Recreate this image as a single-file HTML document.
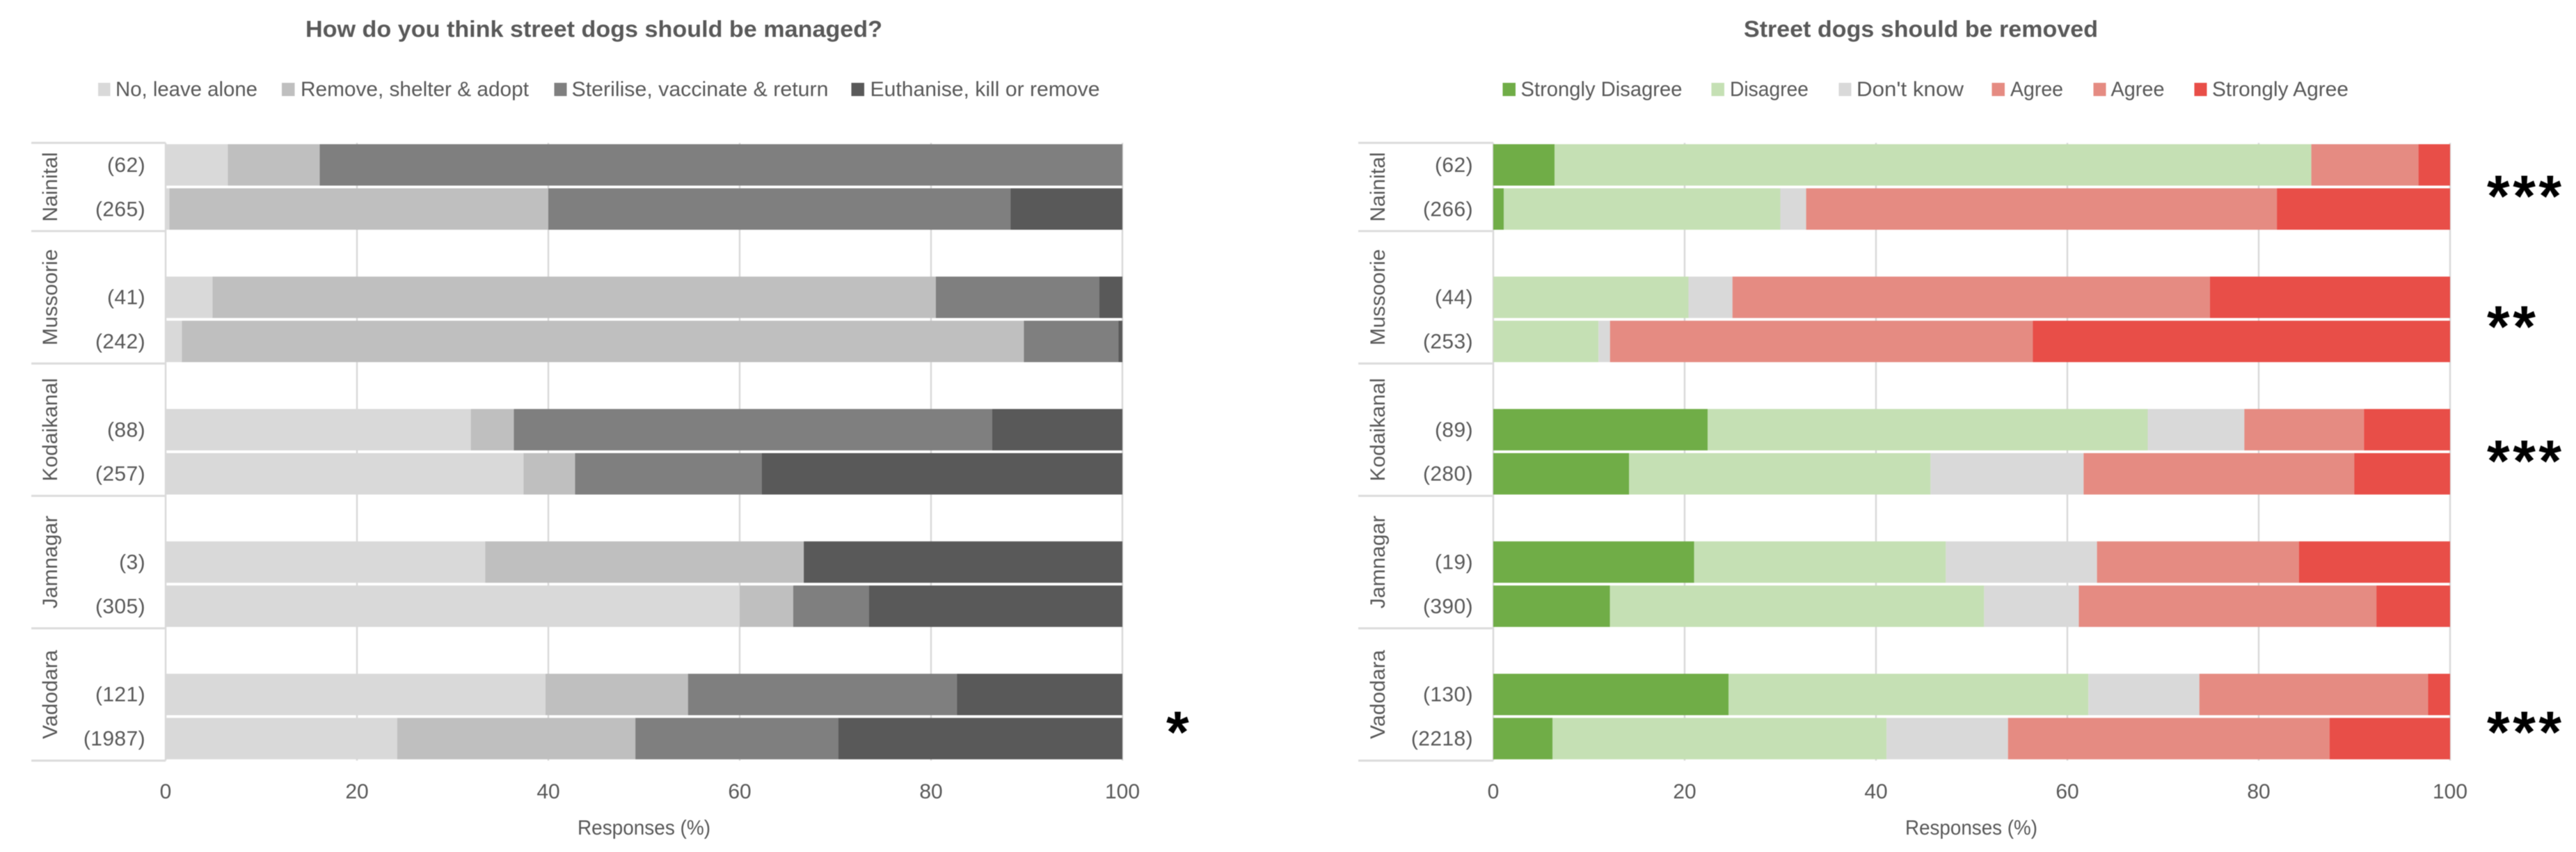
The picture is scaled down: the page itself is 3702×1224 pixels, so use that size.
<!DOCTYPE html>
<html lang="en">
<head>
<meta charset="utf-8">
<title>Street dog management survey charts</title>
<style>
html,body{margin:0;padding:0;background:#fff;width:3702px;height:1224px;overflow:hidden}
svg{display:block}
text{font-family:"Liberation Sans",sans-serif;fill:#595959}
.title{font-size:33px;font-weight:bold}
.legend,.tick,.count,.axis-title{font-size:30px}
.group{font-size:30px}
.sig{font-size:84px;fill:#000;font-weight:bold}
</style>
</head>
<body>
<svg id="fig" xmlns="http://www.w3.org/2000/svg" width="3702" height="1224" viewBox="0 0 3702 1224" style="filter:blur(0.6px)">
  <rect x="0" y="0" width="3702" height="1224" fill="#ffffff"/>

  <text class="title" x="439" y="53" textLength="829" lengthAdjust="spacingAndGlyphs">How do you think street dogs should be managed?</text>
  <text class="title" x="2506" y="53" textLength="509" lengthAdjust="spacingAndGlyphs">Street dogs should be removed</text>

  <g>
    <g><rect x="141" y="119" width="17.5" height="19" fill="#d9d9d9"/><text class="legend" x="166" y="138" textLength="204" lengthAdjust="spacingAndGlyphs">No, leave alone</text></g>
    <g><rect x="405" y="119" width="18.5" height="19" fill="#bfbfbf"/><text class="legend" x="432" y="138" textLength="328" lengthAdjust="spacingAndGlyphs">Remove, shelter &amp; adopt</text></g>
    <g><rect x="796.5" y="119" width="18" height="19" fill="#7f7f7f"/><text class="legend" x="821.5" y="138" textLength="369" lengthAdjust="spacingAndGlyphs">Sterilise, vaccinate &amp; return</text></g>
    <g><rect x="1223.5" y="119" width="18.5" height="19" fill="#595959"/><text class="legend" x="1250.5" y="138" textLength="330" lengthAdjust="spacingAndGlyphs">Euthanise, kill or remove</text></g>
  </g>

  <g>
    <g><rect x="2159.5" y="119" width="18.5" height="19" fill="#70ad47"/><text class="legend" x="2185.5" y="138" textLength="232" lengthAdjust="spacingAndGlyphs">Strongly Disagree</text></g>
    <g><rect x="2459.5" y="119" width="18.5" height="19" fill="#c5e0b4"/><text class="legend" x="2486" y="138" textLength="113" lengthAdjust="spacingAndGlyphs">Disagree</text></g>
    <g><rect x="2642.5" y="119" width="18" height="19" fill="#d9d9d9"/><text class="legend" x="2668" y="138" textLength="154" lengthAdjust="spacingAndGlyphs">Don't know</text></g>
    <g><rect x="2862.5" y="119" width="18.5" height="19" fill="#e58b82"/><text class="legend" x="2889" y="138" textLength="76" lengthAdjust="spacingAndGlyphs">Agree</text></g>
    <g><rect x="3008.5" y="119" width="18" height="19" fill="#e58b82"/><text class="legend" x="3033.5" y="138" textLength="77" lengthAdjust="spacingAndGlyphs">Agree</text></g>
    <g><rect x="3153.5" y="119" width="18" height="19" fill="#e84e48"/><text class="legend" x="3179" y="138" textLength="196" lengthAdjust="spacingAndGlyphs">Strongly Agree</text></g>
  </g>

  <text class="axis-title" x="830" y="1199" textLength="191" lengthAdjust="spacingAndGlyphs">Responses (%)</text>
  <text class="axis-title" x="2738" y="1199" textLength="190" lengthAdjust="spacingAndGlyphs">Responses (%)</text>
</svg>

<script>
// ---- shared categories and ticks ----
const cities = ['Nainital', 'Mussoorie', 'Kodaikanal', 'Jamnagar', 'Vadodara'];
const xTicks = [0, 20, 40, 60, 80, 100];

// ---- left chart: sample sizes (two per city) ----
const leftCounts = ['(62)', '(265)', '(41)', '(242)', '(88)', '(257)', '(3)', '(305)', '(121)', '(1987)'];
// ---- left chart: series values, % ----
const leaveAlone = [6.5, 0.4, 4.9, 1.7, 31.9, 37.4, 33.4, 60.0, 39.7, 24.2];
const shelterAdopt = [9.6, 39.6, 75.6, 88.0, 4.5, 5.4, 33.3, 5.6, 14.9, 24.9];
const sterilise = [83.9, 48.3, 17.1, 9.9, 50.0, 19.5, 0, 7.9, 28.1, 21.2];
const euthanise = [0, 11.7, 2.4, 0.4, 13.6, 37.7, 33.3, 26.5, 17.3, 29.7];
const leftSignificance = ['', '', '', '', '*'];

// ---- right chart: sample sizes ----
const rightCounts = ['(62)', '(266)', '(44)', '(253)', '(89)', '(280)', '(19)', '(390)', '(130)', '(2218)'];
// ---- right chart: series values, % ----
const stronglyDisagree = [6.4, 1.1, 0, 0, 22.4, 14.2, 21.0, 12.2, 24.6, 6.2];
const disagree = [79.1, 28.9, 20.4, 11.0, 46.0, 31.5, 26.3, 39.1, 37.6, 34.9];
const dontKnow = [0, 2.7, 4.6, 1.2, 10.1, 16.0, 15.8, 9.9, 11.6, 12.7];
const agree = [11.2, 49.2, 49.9, 44.2, 12.5, 28.3, 21.1, 31.1, 23.9, 33.6];
const agreeSecond = [0, 0, 0, 0, 0, 0, 0, 0, 0, 0];
const stronglyAgree = [3.3, 18.1, 25.1, 43.6, 9.0, 10.0, 15.8, 7.7, 2.3, 12.6];
const rightSignificance = ['***', '**', '***', '', '***'];

const NS = 'http://www.w3.org/2000/svg';
const fig = document.getElementById('fig');

function make(tag, attrs, parent) {
  const el = document.createElementNS(NS, tag);
  for (const k in attrs) el.setAttribute(k, attrs[k]);
  parent.appendChild(el);
  return el;
}

// category axis: 14 bands; first city has no blank leading band
const bandTop = 205.2, bandStep = 63.4, barH = 59.5;
function bandIndex(row) { return Math.floor(row / 2) * 3 + (row % 2); }
function yCenter(row) { return bandTop + bandStep * (bandIndex(row) + 0.5); }
function groupTop(g) { return g === 0 ? bandTop : bandTop + bandStep * (3 * g - 1); }
const groupBottom = g => groupTop(g + 1);
const plotBottom = groupTop(5);

function drawChart(cfg) {
  const x = v => cfg.x0 + (v / 100) * cfg.plotW;
  const root = make('g', {}, fig);
  
  

  // gridlines + tick labels
  xTicks.forEach(t => {
    const grid = make('line', {x1: x(t), x2: x(t), y1: bandTop, y2: plotBottom, stroke: '#d9d9d9', 'stroke-width': 2.5}, root);
    
    
    const lbl = make('text', {class: 'tick', x: x(t), y: 1147, 'text-anchor': 'middle'}, root);
    
    
    lbl.textContent = t;
  });

  // category separators
  for (let g = 0; g <= cities.length; g++) {
    const sep = make('line', {x1: cfg.sepLeft, x2: cfg.x0, y1: groupTop(g), y2: groupTop(g), stroke: '#dcdcdc', 'stroke-width': 3}, root);
    
    
  }

  // stacked bars
  cfg.counts.forEach((count, row) => {
    let cum = 0;
    cfg.series.forEach((s, si) => {
      const v = s[row];
      if (v > 0) {
        const bar = make('rect', {x: x(cum), y: yCenter(row) - barH / 2, width: x(cum + v) - x(cum), height: barH, fill: cfg.colors[si]}, root);
        
        
      }
      cum += v;
    });
    const c = make('text', {class: 'count', x: x(0) + cfg.countRight, y: yCenter(row) + 10, 'text-anchor': 'end', 'letter-spacing': 0.4}, root);
    
    
    c.textContent = count;
  });

  // group labels + significance stars
  cities.forEach((city, g) => {
    const cy = (groupTop(g) + groupBottom(g)) / 2;
    const lbl = make('text', {class: 'group', 'text-anchor': 'middle', transform: 'translate(' + (cfg.x0 - 156) + ',' + cy + ') rotate(-90)'}, root);
    
    
    lbl.textContent = city;

    const stars = cfg.sig[g];
    if (stars) {
      const between = (yCenter(2 * g) + yCenter(2 * g + 1)) / 2;
      const st = make('text', {class: 'sig', x: x(100) + cfg.sigOffset, y: between + cfg.nudge[g] + 45, 'letter-spacing': 4.5}, root);
      
      
      st.textContent = stars;
    }
  });
}

drawChart({
  name: 'left-chart', x0: 238, plotW: 1375, sepLeft: 45, countRight: -29, sigOffset: 63,
  counts: leftCounts, sig: leftSignificance, nudge: [0, 0, 0, 0, 6],
  series: [leaveAlone, shelterAdopt, sterilise, euthanise],
  colors: ['#d9d9d9', '#bfbfbf', '#7f7f7f', '#595959']
});
drawChart({
  name: 'right-chart', x0: 2146, plotW: 1375, sepLeft: 1952, countRight: -29, sigOffset: 53,
  counts: rightCounts, sig: rightSignificance, nudge: [-3, -6, -3, 0, 6],
  series: [stronglyDisagree, disagree, dontKnow, agree, agreeSecond, stronglyAgree],
  colors: ['#70ad47', '#c5e0b4', '#d9d9d9', '#e58b82', '#e58b82', '#e84e48']
});
</script>
</body>
</html>
